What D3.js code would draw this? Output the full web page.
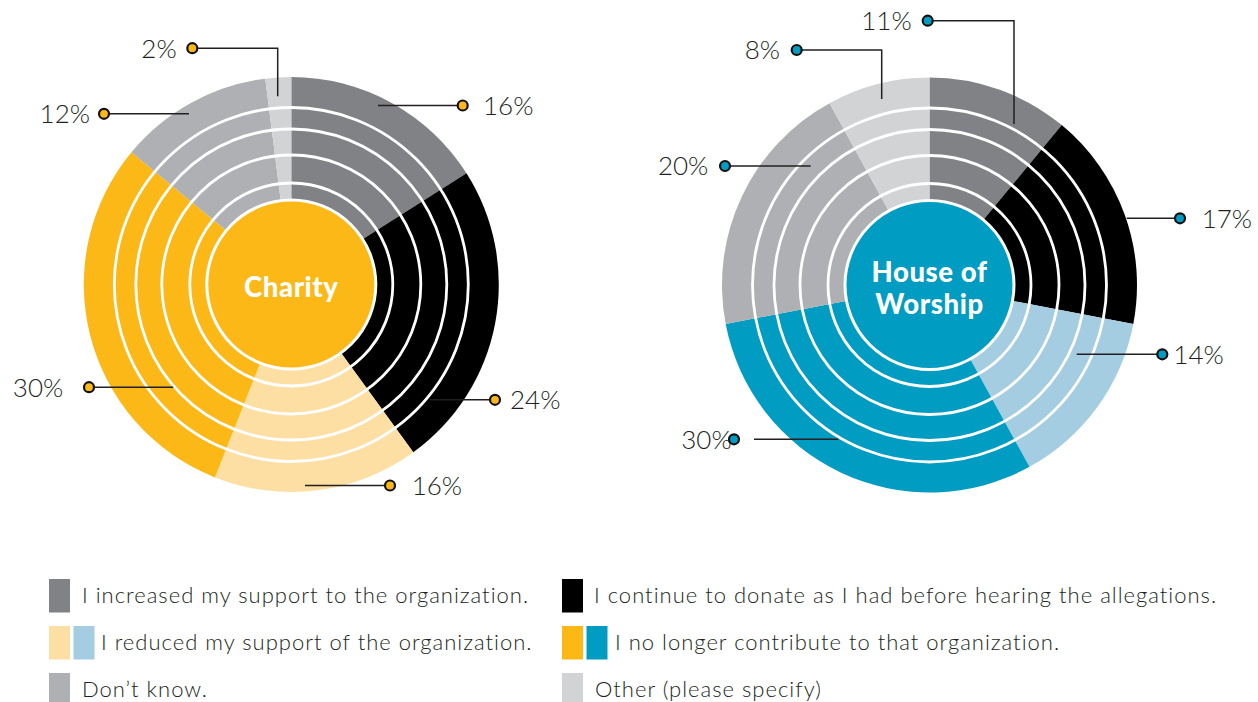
<!DOCTYPE html>
<html>
<head>
<meta charset="utf-8">
<script src="https://cdn.jsdelivr.net/npm/d3@7"></script>
<style>
  html, body { margin: 0; padding: 0; background: #ffffff; }
  svg { display: block; }
</style>
</head>
<body>
<svg id="chart" width="1258" height="702"></svg>
<script>
// Survey answers, in the clockwise order the slices are drawn
const categories = [
  "I increased my support to the organization.",
  "I continue to donate as I had before hearing the allegations.",
  "I reduced my support of the organization.",
  "I no longer contribute to that organization.",
  "Don’t know.",
  "Other (please specify)"
];
const charityValues = [16, 24, 16, 30, 12, 2];
const worshipValues = [11, 17, 14, 30, 20, 8];
const chartTitles = [["Charity"], ["House of", "Worship"]];

// Palette: shared greys/black, plus one accent pair per organisation type
const sharedColors = ["#808285", "#000000", null, null, "#AEB0B3", "#D1D3D4"];
const accents = [
  { light: "#FDDFA4", strong: "#FBB817" },
  { light: "#A4CDE1", strong: "#009CC1" }
];

const ink = "#231F20";
const outerR = 207.5;
const ringRadii = [101.5, 129.5, 155.5, 177];
const coreR = 84.5;

// Leader-line layout, relative to each chart's centre:
// s = start inside slice, d = dot, t = text x, elbow = vertical then horizontal
const charityLeaders = [
  { s: [86.7, -179], d: [171.4, -179], t: 191.7, anchor: "start" },
  { s: [138.7, 115.3], d: [203.7, 115.3], t: 218.7, anchor: "start" },
  { s: [13.7, 201], d: [98.7, 201], t: 120.4, anchor: "start" },
  { s: [-118, 102.7], d: [-202.3, 102.7], t: -228, anchor: "end" },
  { s: [-102.3, -170.7], d: [-187.3, -170.7], t: -201.3, anchor: "end" },
  { s: [-13.6, -188.3], d: [-99, -236.3], t: -114.6, anchor: "end", elbow: true }
];
const worshipLeaders = [
  { s: [84.5, -161], d: [-1.8, -264.3], t: -17.8, anchor: "end", elbow: true },
  { s: [197.2, -66.7], d: [250.5, -66.7], t: 272.2, anchor: "start" },
  { s: [147.2, 69.3], d: [232.8, 69.3], t: 243.8, anchor: "start" },
  { s: [-91.2, 154.3], d: [-195.5, 154.3], lineEnd: -175.5, t: -197.8, anchor: "end" },
  { s: [-118.8, -119], d: [-204.5, -119], t: -221.2, anchor: "end" },
  { s: [-47.8, -186], d: [-132.8, -235], t: -149.5, anchor: "end", elbow: true }
];

const charts = [
  { values: charityValues, title: chartTitles[0], accent: accents[0], cx: 291.3, cy: 284.5, leaders: charityLeaders },
  { values: worshipValues, title: chartTitles[1], accent: accents[1], cx: 929.5, cy: 285, leaders: worshipLeaders }
];

const svg = d3.select("#chart");

const pie = d3.pie().sort(null).value(d => d).startAngle(0).endAngle(2 * Math.PI);
const arc = d3.arc().innerRadius(0).outerRadius(outerR);

function sliceColor(i, accent) {
  if (i === 2) return accent.light;
  if (i === 3) return accent.strong;
  return sharedColors[i];
}

charts.forEach(ch => {
  const g = svg.append("g").attr("transform", `translate(${ch.cx},${ch.cy})`);

  // slices
  g.selectAll("path.slice")
    .data(pie(ch.values))
    .join("path")
    .attr("class", "slice")
    .attr("d", arc)
    .attr("fill", (d, i) => sliceColor(i, ch.accent));

  // concentric white rings
  g.selectAll("circle.ring")
    .data(ringRadii)
    .join("circle")
    .attr("class", "ring")
    .attr("r", d => d)
    .attr("fill", "none")
    .attr("stroke", "#ffffff")
    .attr("stroke-width", 2.8);

  // centre disc
  g.append("circle")
    .attr("r", coreR)
    .attr("fill", ch.accent.strong)
    .attr("stroke", "#ffffff")
    .attr("stroke-width", 3);

  const lineH = 32;
  const title = g.append("text")
    .attr("text-anchor", "middle")
    .attr("fill", "#ffffff")
    .attr("font-family", "Lato, 'Open Sans', sans-serif")
    .attr("font-weight", 900)
    .attr("font-size", 27.5)
    .attr("letter-spacing", 0.6);
  ch.title.forEach((line, k) => {
    title.append("tspan")
      .attr("x", 0)
      .attr("y", (k - (ch.title.length - 1) / 2) * lineH + 3)
      .attr("dy", "0.35em")
      .text(line);
  });

  // leader lines, dots and percentage labels
  const labels = g.append("g");
  ch.values.forEach((v, i) => {
    const L = ch.leaders[i];
    const endX = L.lineEnd !== undefined ? L.lineEnd : L.d[0];
    const pts = L.elbow
      ? [L.s, [L.s[0], L.d[1]], [endX, L.d[1]]]
      : [L.s, [endX, L.d[1]]];
    labels.append("path")
      .attr("d", d3.line()(pts))
      .attr("fill", "none")
      .attr("stroke", ink)
      .attr("stroke-width", 1.5);
    labels.append("text")
      .attr("x", L.t)
      .attr("y", L.d[1])
      .attr("dy", "0.36em")
      .attr("text-anchor", L.anchor)
      .attr("fill", ink)
      .attr("font-family", "Lato, 'Open Sans', sans-serif")
      .attr("font-weight", 300)
      .attr("font-size", 26)
      .text(`${v}%`);
    labels.append("circle")
      .attr("cx", L.d[0])
      .attr("cy", L.d[1])
      .attr("r", 5)
      .attr("fill", ch.accent.strong)
      .attr("stroke", "#111111")
      .attr("stroke-width", 2.2);
  });
});

// Legend: two columns, three rows
const legendItems = [
  { cat: 0, x: 49, row: 0, swatches: [sharedColors[0]], tx: 82 },
  { cat: 2, x: 49, row: 1, swatches: [accents[0].light, accents[1].light], tx: 101 },
  { cat: 4, x: 49, row: 2, swatches: [sharedColors[4]], tx: 82 },
  { cat: 1, x: 562, row: 0, swatches: [sharedColors[1]], tx: 594 },
  { cat: 3, x: 562, row: 1, swatches: [accents[0].strong, accents[1].strong], tx: 615 },
  { cat: 5, x: 562, row: 2, swatches: [sharedColors[5]], tx: 595 }
];
const rowTop = [579, 626, 673];
const swW = 21, swH = 33.5, swGap = 3.5;

const legend = svg.append("g");
legendItems.forEach(item => {
  const y0 = rowTop[item.row];
  item.swatches.forEach((c, k) => {
    legend.append("rect")
      .attr("x", item.x + k * (swW + swGap))
      .attr("y", y0)
      .attr("width", swW)
      .attr("height", swH)
      .attr("fill", c);
  });
  legend.append("text")
    .attr("x", item.tx)
    .attr("y", y0 + swH / 2)
    .attr("dy", "0.35em")
    .attr("fill", ink)
    .attr("font-family", "Lato, 'Open Sans', sans-serif")
    .attr("font-weight", 300)
    .attr("font-size", 22)
    .attr("letter-spacing", 1)
    .text(categories[item.cat]);
});
</script>
</body>
</html>
